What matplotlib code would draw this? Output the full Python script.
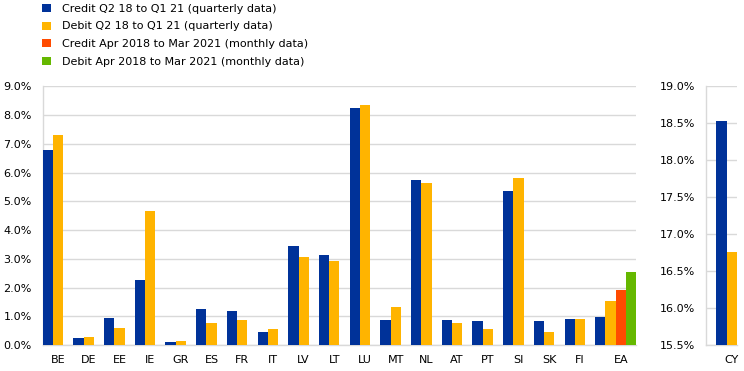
import numpy as np
import matplotlib
matplotlib.use("Agg")
import matplotlib.pyplot as plt
from matplotlib.patches import Patch
from matplotlib.ticker import FuncFormatter, MultipleLocator

plt.rcParams['font.family'] = ['DejaVu Sans']

countries = ["BE", "DE", "EE", "IE", "GR", "ES", "FR", "IT", "LV", "LT",
             "LU", "MT", "NL", "AT", "PT", "SI", "SK", "FI"]
credit_q = [6.79, 0.23, 0.94, 2.25, 0.10, 1.24, 1.19, 0.45, 3.45, 3.14,
            8.26, 0.86, 5.75, 0.87, 0.83, 5.36, 0.82, 0.90]
debit_q = [7.30, 0.29, 0.59, 4.66, 0.15, 0.78, 0.87, 0.56, 3.05, 2.92,
           8.34, 1.32, 5.63, 0.76, 0.54, 5.80, 0.46, 0.90]
ea_label = "EA"
ea_values = [0.98, 1.53, 1.91, 2.54]  # credit q, debit q, credit m, debit m
cy_label = "CY"
cy_values = [18.53, 16.76]  # credit q, debit q

series_names = ["Credit Q2 18 to Q1 21 (quarterly data)",
                "Debit Q2 18 to Q1 21 (quarterly data)",
                "Credit Apr 2018 to Mar 2021 (monthly data)",
                "Debit Apr 2018 to Mar 2021 (monthly data)"]
colors = ["#003299", "#FFB400", "#FF4B00", "#65B800"]
grid_c = "#D9D9D9"

fig = plt.figure(figsize=(7.44, 3.71), dpi=100)
ax = fig.add_axes([0.0574, 0.0701, 0.7977, 0.6968])
ax2 = fig.add_axes([0.9489, 0.0701, 0.0417, 0.6968])

# main chart
centers = 1.5 + 3 * np.arange(len(countries))
ax.bar(centers - 1, credit_q, width=1.0, color=colors[0], zorder=3)
ax.bar(centers, debit_q, width=1.0, color=colors[1], zorder=3)
ea_x = 3 * len(countries) + 0.5 + np.arange(4)
ax.bar(ea_x, ea_values, width=1.0, color=colors, zorder=3)

ax.set_xlim(0, 3 * len(countries) + 4)
ax.set_ylim(0, 9)
ax.yaxis.set_major_locator(MultipleLocator(1))
ax.yaxis.set_major_formatter(FuncFormatter(lambda v, p: f"{v:.1f}%"))
ax.set_xticks(list(centers) + [ea_x[2]])
ax.set_xticklabels(countries + [ea_label])

# CY chart
ax2.bar([1.5, 2.5], cy_values, width=1.0, color=colors[:2], zorder=3)
ax2.set_xlim(0, 3)
ax2.set_ylim(15.5, 19.0)
ax2.yaxis.set_major_locator(MultipleLocator(0.5))
ax2.yaxis.set_major_formatter(FuncFormatter(lambda v, p: f"{v:.1f}%"))
ax2.set_xticks([2.5])
ax2.set_xticklabels([cy_label])

for a in (ax, ax2):
    a.grid(axis='y', color=grid_c, linewidth=1.0, zorder=0)
    a.set_axisbelow(True)
    for s in ("top", "right"):
        a.spines[s].set_visible(False)
    for s in ("left", "bottom"):
        a.spines[s].set_color(grid_c)
        a.spines[s].set_linewidth(1.0)
    a.tick_params(axis='y', length=0, pad=8, labelsize=8, colors='black')
    a.tick_params(axis='x', length=0, pad=7, labelsize=8, colors='black')

handles = [Patch(facecolor=c, edgecolor='none') for c in colors]
fig.legend(handles, series_names, loc='upper left',
           bbox_to_anchor=(0.048, 1.008), frameon=False, fontsize=8,
           handlelength=0.75, handleheight=0.75, handletextpad=1.0,
           labelspacing=0.7, borderaxespad=0.2)

fig.savefig("out.png", dpi=100)
